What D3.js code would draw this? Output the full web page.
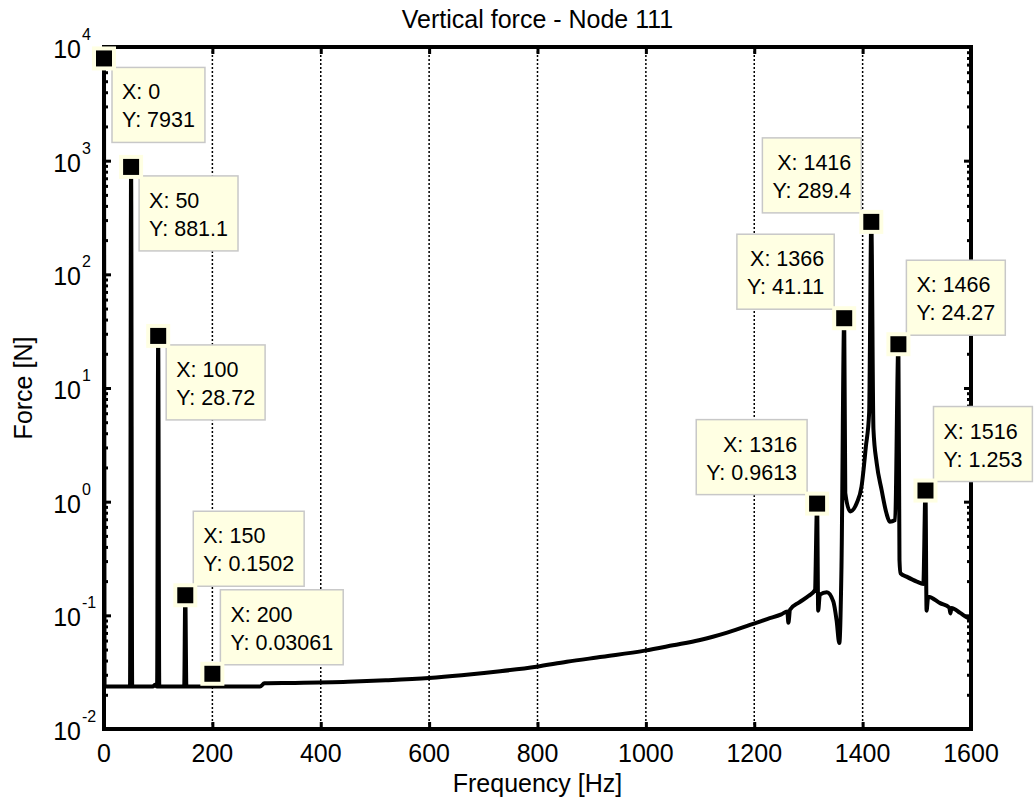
<!DOCTYPE html>
<html>
<head>
<meta charset="utf-8">
<script src="https://cdnjs.cloudflare.com/ajax/libs/d3/7.8.5/d3.min.js"></script>
<style>
  body { margin: 0; background: #fff; }
  text { font-family: "Liberation Sans", Arial, sans-serif; fill: #000; }
</style>
</head>
<body>
<div id="main"></div>
<script>
// spectrum (Hz, N)
var freq = [0, 1, 2, 48, 50, 52, 90, 94, 98, 100, 102, 148, 150, 152, 198, 200, 202,
  288, 296, 350, 450, 520, 600, 660, 731, 798, 854, 920, 998, 1050, 1100, 1150, 1198, 1225, 1250, 1261, 1263, 1266, 1283,
  1300, 1312, 1316, 1318, 1321, 1334, 1346, 1352, 1357, 1361, 1366, 1368, 1377,
  1389, 1398, 1406, 1412, 1416, 1420, 1426, 1435, 1444, 1450, 1460, 1466, 1468,
  1470, 1481, 1500, 1512, 1516, 1518, 1521, 1543, 1560, 1562, 1564, 1580, 1592, 1600];
var force = [7931, 0.0245, 0.0236, 0.0236, 881.1, 0.0236, 0.0236, 0.0245, 0.0236, 28.72, 0.0236, 0.0236, 0.1502, 0.0236, 0.0236, 0.03061, 0.0236,
  0.0236, 0.0252, 0.0254, 0.026, 0.0268, 0.0281, 0.0297, 0.0322, 0.0353, 0.039, 0.0432, 0.0489, 0.0545, 0.0607, 0.0705, 0.084, 0.093, 0.102, 0.108, 0.086, 0.112, 0.13,
  0.148, 0.167, 0.9613, 0.11, 0.152, 0.16, 0.132, 0.09, 0.057, 0.27, 41.11, 1.19, 0.82,
  0.97, 1.36, 3.05, 6.0, 289.4, 4.3, 2.18, 1.27, 0.79, 0.667, 0.69, 24.27, 0.307,
  0.234, 0.219, 0.198, 0.189, 1.253, 0.11, 0.146, 0.128, 0.117, 0.104, 0.116, 0.105, 0.096, 0.092];

// data tips
var tipX = [0, 50, 100, 150, 200, 1316, 1366, 1416, 1466, 1516];
var tipY = [7931, 881.1, 28.72, 0.1502, 0.03061, 0.9613, 41.11, 289.4, 24.27, 1.253];
var tipSide = ["r", "r", "r", "r", "r", "l", "l", "l", "r", "r"];
var tipBelow = [true, true, true, false, false, false, false, false, false, false];

var xTicks = [0, 200, 400, 600, 800, 1000, 1200, 1400, 1600];
var yDecades = [-2, -1, 0, 1, 2, 3, 4];

createVisualization();

function createVisualization() {
  var w = 1035, h = 807;
  var pL = 104, pR = 971, pT = 47, pB = 729;

  var svg = d3.select("#main")
    .append("svg")
    .attr("width", w)
    .attr("height", h);

  svg.append("rect").attr("width", w).attr("height", h).attr("fill", "#fff");

  var x = d3.scaleLinear().domain([0, 1600]).range([pL, pR]);
  var y = d3.scaleLog().domain([1e-2, 1e4]).range([pB, pT]);

  // dotted x grid
  svg.append("g")
    .selectAll("line")
    .data(xTicks.slice(1, -1))
    .enter()
    .append("line")
    .attr("x1", function(d) { return x(d); })
    .attr("x2", function(d) { return x(d); })
    .attr("y1", pT)
    .attr("y2", pB)
    .attr("stroke", "#000")
    .attr("stroke-width", 1.5)
    .attr("stroke-dasharray", "2,2");

  svg.append("clipPath").attr("id", "clip")
    .append("rect")
    .attr("x", pL).attr("y", pT)
    .attr("width", pR - pL).attr("height", pB - pT);

  var pts = freq.map(function(f, i) { return [f, force[i]]; });

  svg.append("path")
    .datum(pts)
    .attr("clip-path", "url(#clip)")
    .attr("fill", "none")
    .attr("stroke", "#000")
    .attr("stroke-width", 4)
    .attr("stroke-linejoin", "round")
    .attr("d", d3.line()
      .curve(d3.curveMonotoneX)
      .x(function(d) { return x(d[0]); })
      .y(function(d) { return y(d[1]); }));

  // ticks, all pointing inward
  var minor = [];
  for (var k = -2; k < 4; k++) {
    for (var m = 2; m < 10; m++) minor.push(m * Math.pow(10, k));
  }
  var major = yDecades.map(function(e) { return Math.pow(10, e); });

  function drawTicks(axis, tx, vals, len) {
    var g = svg.append("g")
      .attr("transform", tx)
      .call(axis.tickValues(vals).tickSizeInner(-len).tickSizeOuter(0).tickFormat(""));
    g.select(".domain").remove();
    g.selectAll(".tick line").attr("stroke", "#000").attr("stroke-width", 3);
  }

  drawTicks(d3.axisBottom(x), "translate(0," + pB + ")", xTicks, 7);
  drawTicks(d3.axisTop(x), "translate(0," + pT + ")", xTicks, 7);
  drawTicks(d3.axisLeft(y), "translate(" + pL + ",0)", major, 7);
  drawTicks(d3.axisLeft(y), "translate(" + pL + ",0)", minor, 4);
  drawTicks(d3.axisRight(y), "translate(" + pR + ",0)", major, 7);
  drawTicks(d3.axisRight(y), "translate(" + pR + ",0)", minor, 4);

  // box
  svg.append("rect")
    .attr("x", pL).attr("y", pT)
    .attr("width", pR - pL).attr("height", pB - pT)
    .attr("fill", "none")
    .attr("stroke", "#000")
    .attr("stroke-width", 4);

  // tick labels
  svg.append("g")
    .selectAll("text")
    .data(xTicks)
    .enter()
    .append("text")
    .attr("x", function(d) { return x(d); })
    .attr("y", 762)
    .attr("text-anchor", "middle")
    .attr("font-size", 25)
    .text(function(d) { return d; });

  var yl = svg.append("g").selectAll("g")
    .data(yDecades)
    .enter()
    .append("g");
  yl.append("text")
    .attr("x", 81)
    .attr("y", function(d) { return y(Math.pow(10, d)) + 11; })
    .attr("text-anchor", "end")
    .attr("font-size", 25)
    .text("10");
  yl.append("text")
    .attr("x", 82)
    .attr("y", function(d) { return y(Math.pow(10, d)) - 7; })
    .attr("font-size", 16)
    .text(function(d) { return d; });

  // titles
  svg.append("text")
    .attr("x", (pL + pR) / 2).attr("y", 28)
    .attr("text-anchor", "middle").attr("font-size", 25)
    .text("Vertical force - Node 111");
  svg.append("text")
    .attr("x", (pL + pR) / 2).attr("y", 792)
    .attr("text-anchor", "middle").attr("font-size", 25)
    .text("Frequency [Hz]");
  svg.append("text")
    .attr("transform", "translate(32," + (pT + pB) / 2 + ") rotate(-90)")
    .attr("text-anchor", "middle").attr("font-size", 25)
    .text("Force [N]");

  // data tips: marker plus yellow box
  var fmt = d3.format(".4~g");
  tipX.forEach(function(fx, i) {
    var cx = x(fx), cy = y(tipY[i]);
    var g = svg.append("g");
    var box = g.append("rect")
      .attr("fill", "#ffffe3")
      .attr("stroke", "#c8c8c8")
      .attr("stroke-width", 1.5);
    var l1 = g.append("text").attr("font-size", 21.5).text("X: " + fx);
    var l2 = g.append("text").attr("font-size", 21.5).text("Y: " + fmt(tipY[i]));
    var tw = Math.max(l1.node().getComputedTextLength(), l2.node().getComputedTextLength());
    var bw = tw + 20, bh = 75;
    var bx = tipSide[i] == "r" ? cx + 8 : cx - 10 - bw;
    var by = tipBelow[i] ? cy + 9 : cy - 9 - bh;
    box.attr("x", bx).attr("y", by).attr("width", bw).attr("height", bh);
    var anchor = tipSide[i] == "r" ? "start" : "end";
    var tx = tipSide[i] == "r" ? bx + 10 : bx + bw - 10;
    l1.attr("x", tx).attr("y", by + 32).attr("text-anchor", anchor);
    l2.attr("x", tx).attr("y", by + 60).attr("text-anchor", anchor);
    g.append("rect")
      .attr("x", cx - 10).attr("y", cy - 10)
      .attr("width", 20).attr("height", 20)
      .attr("fill", "#000")
      .attr("stroke", "#ffffe3")
      .attr("stroke-width", 4);
  });
}
</script>
</body>
</html>
